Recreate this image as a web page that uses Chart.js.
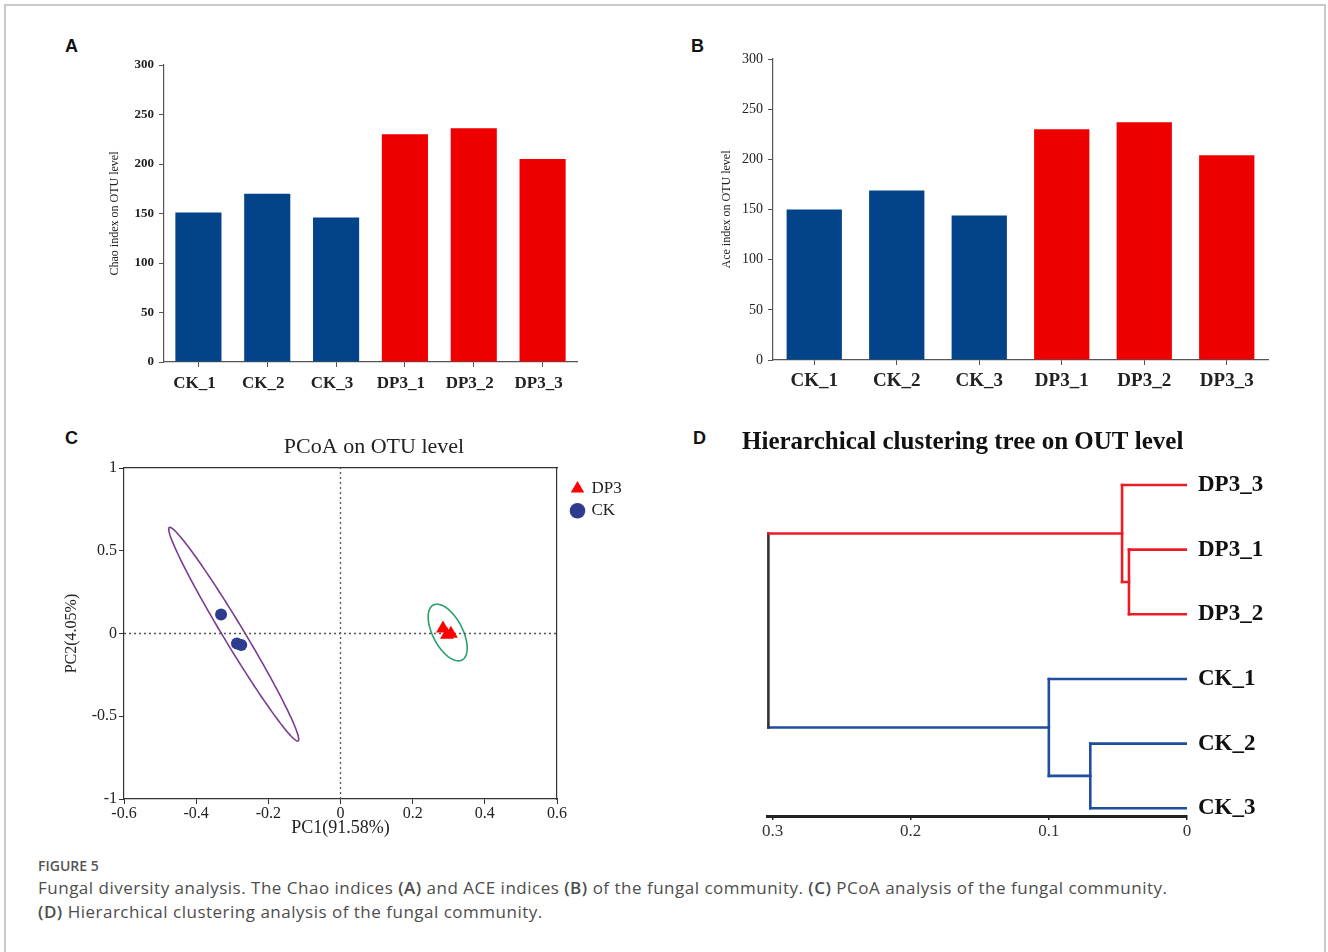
<!DOCTYPE html>
<html><head><meta charset="utf-8">
<script src="https://cdn.jsdelivr.net/npm/chart.js@4.4.1/dist/chart.umd.min.js"></script>
<style>
html,body{margin:0;padding:0;background:#fff;}
body{width:1328px;height:952px;position:relative;overflow:hidden;font-family:'Open Sans',sans-serif;}
#frame{position:absolute;left:4px;top:4px;width:1322px;height:960px;border:2px solid #c8c8c8;border-bottom:none;box-sizing:border-box;}
canvas{position:absolute;}
.lbl{position:absolute;font:bold 18px 'Liberation Sans',Arial,sans-serif;color:#111;line-height:18px;}
#cap{position:absolute;left:38px;top:856px;color:#4d4d4d;}
#cap .fig{font-size:14px;line-height:20px;color:#555;font-weight:600;}
#cap .txt{font-size:17px;line-height:24px;white-space:nowrap;letter-spacing:0.5px;}
#cap b{font-weight:600;}
</style></head>
<body>
<div id="frame"></div>
<div class="lbl" style="left:65px;top:37px">A</div>
<div class="lbl" style="left:691px;top:37px">B</div>
<div class="lbl" style="left:65px;top:429px">C</div>
<div class="lbl" style="left:693px;top:429px">D</div>
<canvas id="cA" width="490" height="360" style="left:100px;top:40px"></canvas>
<canvas id="cB" width="580" height="360" style="left:700px;top:40px"></canvas>
<canvas id="cC" width="652" height="420" style="left:48px;top:425px"></canvas>
<canvas id="cD" width="580" height="421" style="left:742px;top:425px"></canvas>
<div id="cap">
<div class="fig">FIGURE 5</div>
<div class="txt">Fungal diversity analysis. The Chao indices <b>(A)</b> and ACE indices <b>(B)</b> of the fungal community. <b>(C)</b> PCoA analysis of the fungal community.</div>
<div class="txt"><b>(D)</b> Hierarchical clustering analysis of the fungal community.</div>
</div>
<script>
// ---------- data ----------
const categories = ['CK_1', 'CK_2', 'CK_3', 'DP3_1', 'DP3_2', 'DP3_3'];
const chaoValues = [151, 170, 146, 230, 236, 205];
const aceValues = [150, 169, 144, 230, 237, 204];
const barColors = ['#03438a', '#03438a', '#03438a', '#ee0000', '#ee0000', '#ee0000'];

const pcoaDP3 = [{x: 0.284, y: 0.03}, {x: 0.295, y: -0.008}, {x: 0.306, y: -0.002}];
const pcoaCK = [{x: -0.331, y: 0.115}, {x: -0.287, y: -0.06}, {x: -0.275, y: -0.07}];
const pcoaXTicks = [-0.6, -0.4, -0.2, 0, 0.2, 0.4, 0.6];
const pcoaYTicks = [-1, -0.5, 0, 0.5, 1];
// ellipse: centre x, centre y, half-axis 1 (dx, dy), half-axis 2 (dx, dy), in data units
const ellipseCK = [-0.296, -0.004, 0.1785, -0.645, 0.0242, 0.0318];
const ellipseDP3 = [0.297, 0.006, -0.0398, 0.166, 0.0366, 0.0417];

const dendroLeaves = ['DP3_3', 'DP3_1', 'DP3_2', 'CK_1', 'CK_2', 'CK_3'];
const dendroLeafColors = ['#ec1c24', '#ec1c24', '#ec1c24', '#1f4e9e', '#1f4e9e', '#1f4e9e'];
const mergeLeft = [1, 0, 4, 3, 7];
const mergeRight = [2, 6, 5, 8, 9];
const mergeHeight = [0.042, 0.047, 0.070, 0.100, 0.303];
const mergeColors = ['#ec1c24', '#ec1c24', '#1f4e9e', '#1f4e9e', '#333333'];
const dendroTicks = [0, 0.1, 0.2, 0.3];

// ---------- helpers ----------
const serif = "'Liberation Serif','Times New Roman',serif";
const fixW = w => s => { s.width = w; };
const fixH = h => s => { s.height = h; };
const base = {responsive: false, animation: false, devicePixelRatio: 1, events: []};
const hidden = {display: true, grid: {display: false, drawTicks: false}, ticks: {display: false}, border: {display: false}};

function barChart(id, values, title, opts) {
  return new Chart(document.getElementById(id), {
    type: 'bar',
    data: {labels: categories, datasets: [{data: values, backgroundColor: barColors, barPercentage: 0.67, categoryPercentage: 1}]},
    options: Object.assign({}, base, {
      layout: {padding: opts.pad},
      plugins: {legend: {display: false}, tooltip: {enabled: false}},
      scales: {
        x: {grid: {offset: false, drawOnChartArea: false, tickLength: 5, color: '#555'},
            border: {color: '#555', width: 1.2},
            ticks: {autoSkip: false, maxRotation: 0, font: {family: serif, size: opts.xFont, weight: 'bold'}, color: '#222', padding: opts.xPad, labelOffset: opts.xOff},
            afterFit: fixH(30)},
        y: {min: 0, max: 300,
            ticks: {stepSize: 50, font: {family: serif, size: opts.yFont, weight: opts.yWeight}, color: '#222', padding: opts.yPad},
            grid: {drawOnChartArea: false, tickLength: 5, color: '#555'},
            border: {color: '#555', width: 1.2},
            title: {display: true, text: title, font: {family: serif, size: 12}, color: '#222', padding: {top: opts.tPad, bottom: 0}},
            afterFit: fixW(opts.yW)}
      }
    })
  });
}

barChart('cA', chaoValues, 'Chao index on OTU level',
  {pad: {left: 0, top: 25, right: 13, bottom: 8}, xFont: 17, xPad: 6.8, xOff: -4, yFont: 13, yWeight: 'bold', yPad: 5, tPad: 7.8, yW: 64});
barChart('cB', aceValues, 'Ace index on OTU level',
  {pad: {left: 0, top: 19, right: 12, bottom: 10}, xFont: 19, xPad: 4.6, xOff: 0, yFont: 14, yWeight: 'normal', yPad: 5, tPad: 19.8, yW: 73});

// ---------- PCoA ----------
const ellipsePlugin = {
  id: 'ellipses',
  beforeDatasetsDraw(chart) {
    const {ctx, scales: {x, y}} = chart;
    ctx.save();
    [[ellipseCK, '#7b3a96'], [ellipseDP3, '#27a06a']].forEach(([e, col]) => {
      ctx.beginPath();
      for (let i = 0; i <= 180; i++) {
        const t = i / 180 * Math.PI * 2;
        const px = x.getPixelForValue(e[0] + Math.cos(t) * e[2] + Math.sin(t) * e[4]);
        const py = y.getPixelForValue(e[1] + Math.cos(t) * e[3] + Math.sin(t) * e[5]);
        if (i) ctx.lineTo(px, py); else ctx.moveTo(px, py);
      }
      ctx.closePath();
      ctx.strokeStyle = col; ctx.lineWidth = 1.6; ctx.stroke();
    });
    ctx.restore();
  }
};
const fmt1 = v => (Math.abs(v) < 1e-9 ? '0' : String(+v.toFixed(1)));
const setTicks = arr => s => { s.ticks = arr.map(v => ({value: v})); };

new Chart(document.getElementById('cC'), {
  type: 'scatter',
  data: {datasets: [
    {label: 'DP3', data: pcoaDP3, pointStyle: 'triangle', pointRadius: 8, backgroundColor: '#ff0000', borderColor: '#ff0000', borderWidth: 0},
    {label: 'CK', data: pcoaCK, pointStyle: 'circle', pointRadius: 6, backgroundColor: '#2e3b8e', borderColor: '#2e3b8e', borderWidth: 0},
    {label: 'h0', data: [{x: pcoaXTicks[0], y: 0}, {x: pcoaXTicks[pcoaXTicks.length - 1], y: 0}], showLine: true, pointRadius: 0, borderColor: '#555', borderWidth: 1.3, borderDash: [2, 3]},
    {label: 'v0', data: [{x: 0, y: pcoaYTicks[0]}, {x: 0, y: pcoaYTicks[pcoaYTicks.length - 1]}], showLine: true, pointRadius: 0, borderColor: '#555', borderWidth: 1.3, borderDash: [2, 3]}
  ]},
  options: Object.assign({}, base, {
    layout: {padding: 0},
    plugins: {
      tooltip: {enabled: false},
      title: {display: true, text: 'PCoA on OTU level', font: {family: serif, size: 22, weight: 'normal'}, color: '#222', padding: {top: 8.8, bottom: 7.8}},
      legend: {position: 'right', align: 'start', fullSize: false,
        title: {display: true, text: '', font: {size: 6}, padding: 0},
        labels: {usePointStyle: true, boxWidth: 11, boxHeight: 11, padding: 5, font: {family: serif, size: 17}, color: '#222',
                 filter: item => item.datasetIndex < 2}}
    },
    scales: {
      x: {min: pcoaXTicks[0], max: pcoaXTicks[pcoaXTicks.length - 1], afterBuildTicks: setTicks(pcoaXTicks),
          ticks: {callback: fmt1, font: {family: serif, size: 16}, color: '#222', padding: 0, autoSkip: false, maxRotation: 0},
          grid: {drawOnChartArea: false, tickLength: 5, color: '#333'}, border: {color: '#333', width: 1.2},
          title: {display: true, text: 'PC1(91.58%)', font: {family: serif, size: 18}, color: '#222', padding: {top: 0, bottom: 6.2}},
          afterFit: fixH(46)},
      y: {min: pcoaYTicks[0], max: pcoaYTicks[pcoaYTicks.length - 1], afterBuildTicks: setTicks(pcoaYTicks),
          ticks: {callback: fmt1, font: {family: serif, size: 16}, color: '#222', padding: 2, autoSkip: false},
          grid: {drawOnChartArea: false, tickLength: 5, color: '#333'}, border: {color: '#333', width: 1.2},
          title: {display: true, text: 'PC2(4.05%)', font: {family: serif, size: 16}, color: '#222', padding: {top: 14.4, bottom: 0}},
          afterFit: fixW(76)},
      x2: Object.assign({}, hidden, {position: 'top', border: {display: true, color: '#333', width: 1.2}, afterFit: fixH(0)}),
      y2: Object.assign({}, hidden, {position: 'right', border: {display: true, color: '#333', width: 1.2}, afterFit: fixW(10)}),
      y3: Object.assign({}, hidden, {position: 'right', weight: 2000,
          afterFit: s => { const lw = s.chart.legend ? s.chart.legend.width : 0; s.width = Math.max(0, 133 - lw); }})
    }
  }),
  plugins: [ellipsePlugin]
});

// ---------- dendrogram ----------
const nodeX = dendroLeaves.map(() => 0);
const nodeY = dendroLeaves.map((_, i) => i);
const nodeColor = dendroLeafColors.slice();
const dendroSets = [];
mergeHeight.forEach((h, m) => {
  const a = mergeLeft[m], b = mergeRight[m];
  dendroSets.push({data: [{x: nodeX[a], y: nodeY[a]}, {x: h, y: nodeY[a]}], borderColor: nodeColor[a]});
  dendroSets.push({data: [{x: h, y: nodeY[a]}, {x: h, y: nodeY[b]}], borderColor: mergeColors[m]});
  dendroSets.push({data: [{x: h, y: nodeY[b]}, {x: nodeX[b], y: nodeY[b]}], borderColor: nodeColor[b]});
  nodeX.push(h); nodeY.push((nodeY[a] + nodeY[b]) / 2); nodeColor.push(mergeColors[m]);
});
dendroSets.forEach(d => Object.assign(d, {showLine: true, pointRadius: 0, borderWidth: 2.6, borderCapStyle: 'square'}));

new Chart(document.getElementById('cD'), {
  type: 'scatter',
  data: {datasets: dendroSets},
  options: Object.assign({}, base, {
    layout: {padding: 0},
    plugins: {
      legend: {display: false}, tooltip: {enabled: false},
      title: {display: true, align: 'start', text: 'Hierarchical clustering tree on OUT level', font: {family: serif, size: 25, weight: 'bold'}, color: '#111', padding: {top: 3, bottom: 7.6}}
    },
    scales: {
      x: {min: 0, max: 0.304, reverse: true, afterBuildTicks: setTicks(dendroTicks),
          ticks: {callback: fmt1, font: {family: serif, size: 17}, color: '#333', padding: 1.8, autoSkip: false, maxRotation: 0},
          grid: {drawOnChartArea: false, tickLength: 4, color: '#222', lineWidth: 1.5}, border: {color: '#222', width: 3},
          afterFit: fixH(30)},
      y: {position: 'right', min: -0.3, max: 5.12, reverse: true,
          afterBuildTicks: s => { s.ticks = dendroLeaves.map((_, i) => ({value: i})); },
          ticks: {callback: v => dendroLeaves[v], font: {family: serif, size: 23, weight: 'bold'}, color: '#111', padding: 11, autoSkip: false},
          grid: {display: false, drawTicks: false}, border: {display: false},
          afterFit: fixW(135)},
      yl: Object.assign({}, hidden, {position: 'left', afterFit: fixW(25)})
    }
  })
});
</script>
</body></html>
